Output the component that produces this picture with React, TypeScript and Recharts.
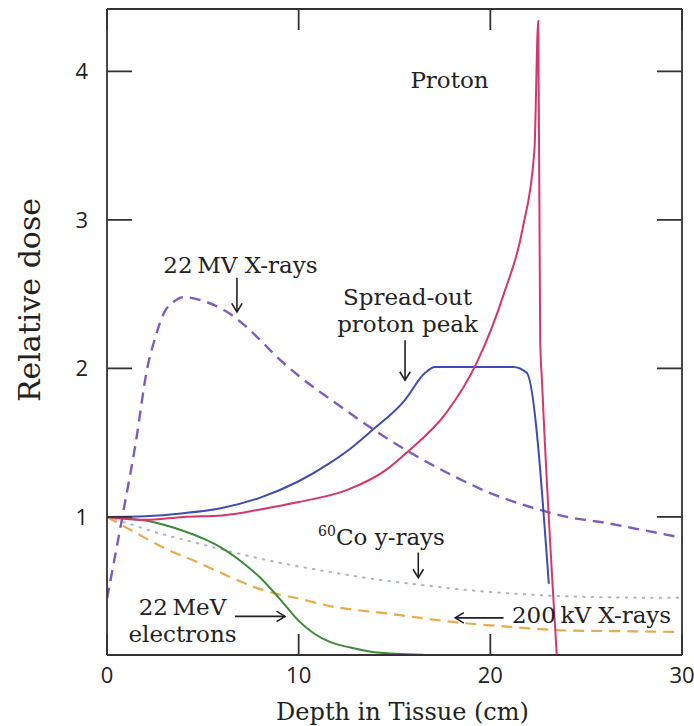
import React from "react";
import { LineChart, Line, XAxis, YAxis, ReferenceDot, ReferenceLine } from "recharts";

// depth (cm) / relative dose
const PROTON_DEPTH = [0, 2, 4, 6, 8, 10, 12.5, 14.6, 15.7, 17.7, 19.3, 20.7, 21.7, 22.3, 22.5, 22.6, 22.7, 23.5];
const PROTON_DOSE = [1, 0.98, 1.0, 1.01, 1.05, 1.1, 1.18, 1.32, 1.44, 1.7, 2.04, 2.5, 2.95, 3.47, 4.34, 2.2, 1.9, 0];

const SOBP_DEPTH = [0, 2, 4, 6, 8, 10, 11.6, 12.5, 13.8, 15.5, 16.6, 17.1, 21.2, 21.9, 23.05];
const SOBP_DOSE = [1, 1.005, 1.025, 1.06, 1.13, 1.24, 1.36, 1.44, 1.58, 1.78, 1.97, 2.01, 2.01, 1.97, 0.55];

const MV22_DEPTH = [0, 0.8, 1.5, 2.1, 2.5, 3, 3.5, 4, 5, 6, 7, 8, 9, 10, 12, 14, 16, 18, 20, 22, 24, 26, 28, 30];
const MV22_DOSE = [0.45, 1.0, 1.5, 2.0, 2.2, 2.38, 2.45, 2.48, 2.455, 2.4, 2.31, 2.19, 2.06, 1.95, 1.76, 1.58, 1.42, 1.28, 1.16, 1.07, 1.0, 0.96, 0.91, 0.86];

const CO60_DEPTH = [0, 1, 2.2, 4.8, 8.3, 11.6, 14, 16.5, 18.6, 21, 24, 27, 30];
const CO60_DOSE = [1, 0.96, 0.91, 0.82, 0.71, 0.63, 0.58, 0.54, 0.51, 0.485, 0.465, 0.457, 0.455];

const KV200_DEPTH = [0, 1.4, 3, 4.8, 6.5, 8.3, 10, 11.6, 14.6, 18.6, 21, 24, 27, 30];
const KV200_DOSE = [1, 0.9, 0.79, 0.69, 0.59, 0.5, 0.45, 0.4, 0.35, 0.285, 0.26, 0.235, 0.23, 0.225];

const MEV22_DEPTH = [0, 1, 2, 3, 4, 5, 6, 7, 8, 9, 10, 10.8, 11.6, 12.7, 13.7, 15, 16.5];
const MEV22_DOSE = [1, 0.99, 0.975, 0.945, 0.905, 0.855, 0.79, 0.7, 0.59, 0.45, 0.3, 0.215, 0.16, 0.12, 0.094, 0.078, 0.072];

const X_TICKS = [0, 10, 20, 30];
const Y_TICKS = [1, 2, 3, 4];

const zip = (xs: number[], ys: number[]) => xs.map((x, i) => ({ x, y: ys[i] }));

const INK = "#222";
const AXIS = "#333";
const SERIF = "'DejaVu Serif', serif";
const SANS = "'Open Sans', sans-serif";
const X_DOMAIN: [number, number] = [0, 30];
const Y_DOMAIN: [number, number] = [0.07, 4.42];

const Arrow = (p: any) => {
  const { x1, y1, x2, y2 } = p;
  const a = Math.atan2(y2 - y1, x2 - x1);
  const h = 10;
  const w = 0.55;
  const pts = `${x2 - h * Math.cos(a - w)},${y2 - h * Math.sin(a - w)} ${x2},${y2} ${x2 - h * Math.cos(a + w)},${y2 - h * Math.sin(a + w)}`;
  return (
    <g>
      <line x1={x1} y1={y1} x2={x2} y2={y2} stroke={INK} strokeWidth={1.6} />
      <polyline points={pts} fill="none" stroke={INK} strokeWidth={1.6} />
    </g>
  );
};

const note = (lines: string[], anchor: "start" | "middle" | "end" = "middle") => (p: any) => (
  <text x={p.cx} y={p.cy} textAnchor={anchor} fontFamily={SERIF} fontSize={23} fill={INK}>
    {lines.map((l, i) => (
      <tspan key={i} x={p.cx} dy={i ? 27 : 0}>
        {l}
      </tspan>
    ))}
  </text>
);

const cobaltNote = (p: any) => (
  <text x={p.cx} y={p.cy} textAnchor="end" fontFamily={SERIF} fontSize={23} fill={INK}>
    <tspan fontSize={14} dy={-9}>60</tspan>
    <tspan dy={9}>Co y-rays</tspan>
  </text>
);

const Dummy = () => <g />;

export default function App() {
  return (
    <div style={{ position: "absolute", left: 0, top: 0, width: 694, height: 726, background: "#fff" }}>
      <LineChart width={694} height={726} margin={{ top: 8, right: 0, bottom: 0, left: 0 }}>
        <XAxis
          dataKey="x"
          type="number"
          domain={X_DOMAIN}
          ticks={X_TICKS}
          allowDataOverflow
          height={71}
          tickSize={-21}
          tickMargin={33}
          stroke={AXIS}
          strokeWidth={1.8}
          tick={{ fill: INK, fontSize: 22, fontFamily: SANS }}
          label={(props: any) => {
            const vb = props.viewBox;
            return (
              <text x={vb.x + vb.width / 2 + 8} y={vb.y + 65} textAnchor="middle" fontFamily={SERIF} fontSize={24} fill={INK}>
                Depth in Tissue (cm)
              </text>
            );
          }}
        />
        <XAxis
          xAxisId="top"
          orientation="top"
          dataKey="x"
          type="number"
          domain={X_DOMAIN}
          ticks={X_TICKS}
          allowDataOverflow
          height={1}
          tickSize={-21}
          stroke={AXIS}
          strokeWidth={1.8}
          tick={<Dummy />}
        />
        <YAxis
          type="number"
          domain={Y_DOMAIN}
          ticks={Y_TICKS}
          allowDataOverflow
          width={107}
          tickSize={-25}
          tickMargin={44}
          stroke={AXIS}
          strokeWidth={1.8}
          tick={{ fill: INK, fontSize: 22, fontFamily: SANS }}
          label={(props: any) => {
            const vb = props.viewBox;
            const cx = vb.x + 40;
            const cy = vb.y + 291;
            return (
              <text x={cx} y={cy} transform={`rotate(-90, ${cx}, ${cy})`} textAnchor="middle" fontFamily={SERIF} fontSize={30} fill={INK}>
                Relative dose
              </text>
            );
          }}
        />
        <YAxis
          yAxisId="right"
          orientation="right"
          type="number"
          domain={Y_DOMAIN}
          ticks={Y_TICKS}
          allowDataOverflow
          width={12}
          tickSize={-25}
          stroke={AXIS}
          strokeWidth={1.8}
          tick={<Dummy />}
        />

        <Line data={zip(CO60_DEPTH, CO60_DOSE)} dataKey="y" type="monotone" stroke="#aeb3c2" strokeWidth={2} strokeDasharray="1.5 7" strokeLinecap="round" dot={false} isAnimationActive={false} />
        <Line data={zip(KV200_DEPTH, KV200_DOSE)} dataKey="y" type="monotone" stroke="#e9aa4e" strokeWidth={2.2} strokeDasharray="11 7" dot={false} isAnimationActive={false} />
        <Line data={zip(MEV22_DEPTH, MEV22_DOSE)} dataKey="y" type="monotone" stroke="#3d8a3a" strokeWidth={2} dot={false} isAnimationActive={false} />
        <Line data={zip(MV22_DEPTH, MV22_DOSE)} dataKey="y" type="monotone" stroke="#7d5cc0" strokeWidth={2.4} strokeDasharray="11 7" dot={false} isAnimationActive={false} />
        <Line data={zip(SOBP_DEPTH, SOBP_DOSE)} dataKey="y" type="monotone" stroke="#3d4db3" strokeWidth={2} dot={false} isAnimationActive={false} />
        <Line data={zip(PROTON_DEPTH, PROTON_DOSE)} dataKey="y" type="monotone" stroke="#d4376a" strokeWidth={2} dot={false} isAnimationActive={false} />

        <ReferenceDot x={17.87} y={3.89} shape={note(["Proton"])} />
        <ReferenceDot x={6.96} y={2.64} shape={note(["22\u2009MV X-rays"])} />
        <ReferenceDot x={15.68} y={2.43} shape={note(["Spread-out", "proton peak"])} />
        <ReferenceDot x={17.63} y={0.81} shape={cobaltNote} />
        <ReferenceDot x={21.13} y={0.287} shape={note(["200\u2009kV X-rays"], "start")} />
        <ReferenceDot x={3.94} y={0.341} shape={note(["22\u2009MeV", "electrons"])} />

        <ReferenceLine segment={[{ x: 6.78, y: 2.61 }, { x: 6.78, y: 2.38 }]} shape={Arrow} />
        <ReferenceLine segment={[{ x: 15.55, y: 2.19 }, { x: 15.55, y: 1.92 }]} shape={Arrow} />
        <ReferenceLine segment={[{ x: 16.24, y: 0.76 }, { x: 16.24, y: 0.59 }]} shape={Arrow} />
        <ReferenceLine segment={[{ x: 20.69, y: 0.32 }, { x: 18.17, y: 0.32 }]} shape={Arrow} />
        <ReferenceLine segment={[{ x: 6.68, y: 0.33 }, { x: 9.29, y: 0.33 }]} shape={Arrow} />
      </LineChart>
    </div>
  );
}
